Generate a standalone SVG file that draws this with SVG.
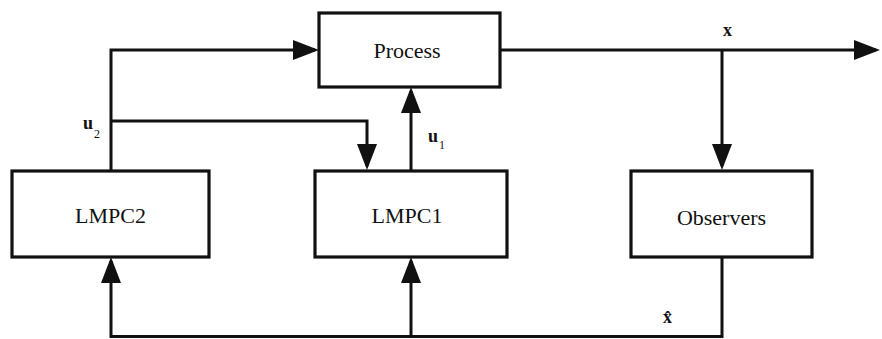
<svg xmlns="http://www.w3.org/2000/svg" width="882" height="339" viewBox="0 0 882 339">
  <defs>
    <marker id="arrow" markerUnits="userSpaceOnUse" markerWidth="26" markerHeight="20" refX="22" refY="10" orient="auto" overflow="visible">
      <path d="M0,0 L26,10 L0,20 Z" fill="#111"/>
    </marker>
  </defs>
  <style>
    .box { fill: #fff; stroke: #111; stroke-width: 3.2; }
    text { font-family: 'Liberation Serif', 'DejaVu Serif', serif; fill: #111; }
    .name { font-size: 22px; text-anchor: middle; }
    .sig { font-size: 18px; font-weight: bold; }
    .sub { font-size: 12px; font-weight: normal; }
    .wire { fill: none; stroke: #111; stroke-width: 3; }
    .arr { marker-end: url(#arrow); }
  </style>

  <rect width="882" height="339" fill="#fff"/>

  <!-- connectors -->
  <g id="connectors">
    <!-- u2 to the process -->
    <path class="wire arr" d="M111,171 V50 H315"/>
    <!-- u2 to LMPC1 -->
    <path class="wire arr" d="M111,121 H367 V166"/>
    <!-- u1 to the process -->
    <path class="wire arr" d="M411,171 V91"/>
    <!-- process output x -->
    <path class="wire arr" d="M500,50 H876"/>
    <!-- x to the observers -->
    <path class="wire arr" d="M722,50 V166"/>
    <!-- estimate x-hat fed back to both controllers -->
    <path class="wire arr" d="M722,257 V336.5 H111 V261"/>
    <path class="wire arr" d="M411,336.5 V261"/>
  </g>

  <!-- nodes -->
  <g id="process">
    <rect class="box" x="319" y="13" width="181" height="74"/>
    <text class="name" x="407" y="58" font-family="Liberation Serif, serif">Process</text>
  </g>
  <g id="lmpc2">
    <rect class="box" x="12" y="171" width="197" height="86"/>
    <text class="name" x="110.5" y="223" font-family="Liberation Serif, serif">LMPC2</text>
  </g>
  <g id="lmpc1">
    <rect class="box" x="315" y="171" width="192" height="86"/>
    <text class="name" x="407" y="223" font-family="Liberation Serif, serif">LMPC1</text>
  </g>
  <g id="observers">
    <rect class="box" x="631" y="171" width="181" height="86"/>
    <text class="name" x="721.5" y="225" font-family="Liberation Serif, serif">Observers</text>
  </g>

  <!-- signal labels -->
  <g id="labels">
    <text class="sig" x="83" y="129">u<tspan class="sub" dx="1" dy="9">2</tspan></text>
    <text class="sig" x="428" y="142">u<tspan class="sub" dx="1" dy="7">1</tspan></text>
    <text class="sig" x="723" y="36">x</text>
    <text class="sig" x="663" y="323">x̂</text>
  </g>
</svg>
